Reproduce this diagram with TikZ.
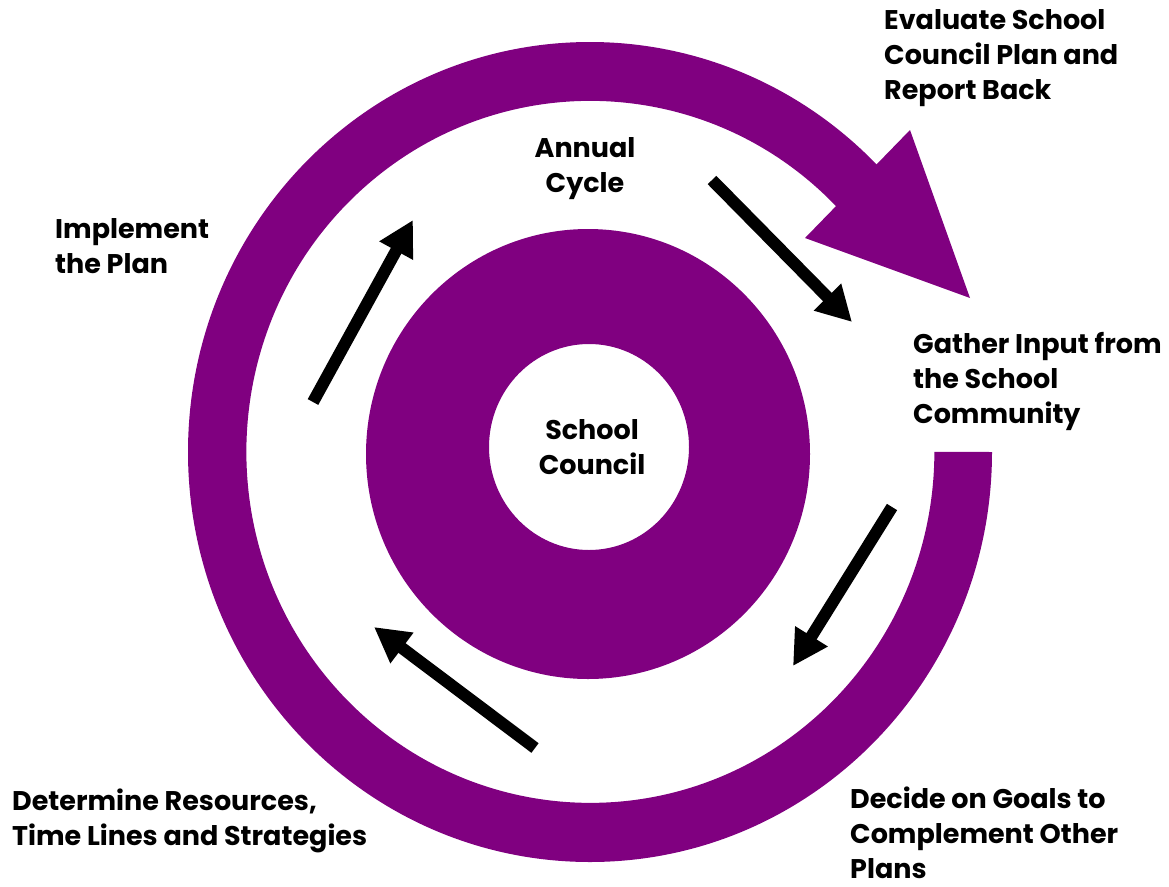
\documentclass[tikz,border=0pt]{standalone}
\usepackage{fontspec}
\setmainfont{Poppins}
\usepackage{xcolor}
\usepackage{tikz}
\usetikzlibrary{arrows.meta}
\definecolor{cycle_purple}{RGB}{128,0,128}
\tikzset{ step_lbl/.style = {align=left, anchor=north west, inner sep=0pt, font=\fontsize{27}{35}\selectfont\bfseries} }
\tikzset{ mid_lbl/.style = {step_lbl, align=center, anchor=north} }
\tikzset{ flow/.style = {line width=12pt, -{Triangle[length=35pt,width=36pt]}} }

\begin{document}
\begin{tikzpicture}[x=1pt,y=-1pt]
        \useasboundingbox (0,0) rectangle (1169,886);
        % outer ring with its head
        \fill[cycle_purple] (992,452) arc[start angle=0, end angle=318, x radius=402, y radius=410]
                -- (846,217) arc[start angle=318, end angle=0, x radius=344, y radius=351] -- cycle;
        \fill[cycle_purple] (910,130) -- (805,238) -- (970,298) -- cycle;
        % inner ring
        \fill[cycle_purple, even odd rule] (588,454) ellipse[x radius=222, y radius=225]
                (589,447) ellipse[x radius=100, y radius=103];
        \node[mid_lbl] (council) at (592,419) {School\\Council};
        \node[mid_lbl] (annual) at (585,137) {Annual\\Cycle};
        \node[step_lbl] (evaluate) at (884,9) {Evaluate School\\Council Plan and\\Report Back};
        \node[step_lbl] (gather) at (913,332) {Gather Input from\\the School\\Community};
        \node[step_lbl] (decide) at (850,787) {Decide on Goals to\\Complement Other\\Plans};
        \node[step_lbl] (determine) at (12,789) {Determine Resources,\\Time Lines and Strategies};
        \node[step_lbl] (implement) at (55,218) {Implement\\the Plan};
        \coordinate (a1) at (712,180);
        \coordinate (b1) at (852,322);
        \coordinate (a2) at (892,507);
        \coordinate (b2) at (793,666);
        \coordinate (a3) at (535,748);
        \coordinate (b3) at (374,627);
        \coordinate (a4) at (313,402);
        \coordinate (b4) at (413,220);
        \draw[flow] (a1) to (b1);
        \draw[flow] (a2) to (b2);
        \draw[flow] (a3) to (b3);
        \draw[flow] (a4) to (b4);
        \end{tikzpicture}
\end{document}
